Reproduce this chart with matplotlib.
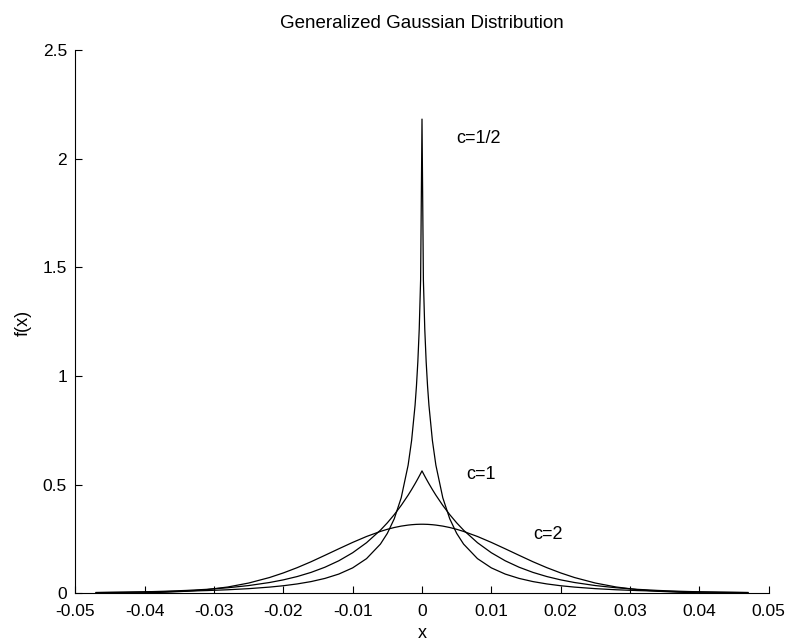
import matplotlib
matplotlib.use("Agg")
import matplotlib.pyplot as plt

plt.rcParams['font.family'] = ['Liberation Sans', 'DejaVu Sans']

# sample positions (x) shared by the three curves
x = [-0.047, -0.043, -0.040, -0.037, -0.034, -0.031, -0.028, -0.025, -0.022, -0.020,
     -0.018, -0.016, -0.014, -0.012, -0.010, -0.008, -0.006, -0.005, -0.004, -0.003,
     -0.002, -0.0015, -0.001, -0.0008, -0.0006, -0.0004, -0.0002, 0.0,
     0.0002, 0.0004, 0.0006, 0.0008, 0.001, 0.0015, 0.002, 0.003, 0.004, 0.005,
     0.006, 0.008, 0.010, 0.012, 0.014, 0.016, 0.018, 0.020, 0.022, 0.025,
     0.028, 0.031, 0.034, 0.037, 0.040, 0.043, 0.047]

# c = 1/2
f_half = [0.0038, 0.0051, 0.0063, 0.0078, 0.0099, 0.0126, 0.0163, 0.0214, 0.0285, 0.0348,
          0.0431, 0.0539, 0.0685, 0.0885, 0.1170, 0.1595, 0.2263, 0.2758, 0.3430, 0.4394,
          0.5898, 0.7028, 0.8652, 0.9540, 1.0657, 1.2154, 1.4427, 2.1820,
          1.4427, 1.2154, 1.0657, 0.9540, 0.8652, 0.7028, 0.5898, 0.4394, 0.3430, 0.2758,
          0.2263, 0.1595, 0.1170, 0.0885, 0.0685, 0.0539, 0.0431, 0.0348, 0.0285, 0.0214,
          0.0163, 0.0126, 0.0099, 0.0078, 0.0063, 0.0051, 0.0038]

# c = 1
f_one = [0.0031, 0.0049, 0.0068, 0.0095, 0.0132, 0.0183, 0.0255, 0.0356, 0.0496, 0.0618,
         0.0771, 0.0962, 0.1200, 0.1496, 0.1866, 0.2328, 0.2903, 0.3242, 0.3621, 0.4044,
         0.4516, 0.4773, 0.5044, 0.5157, 0.5272, 0.5390, 0.5510, 0.5633,
         0.5510, 0.5390, 0.5272, 0.5157, 0.5044, 0.4773, 0.4516, 0.4044, 0.3621, 0.3242,
         0.2903, 0.2328, 0.1866, 0.1496, 0.1200, 0.0962, 0.0771, 0.0618, 0.0496, 0.0356,
         0.0255, 0.0183, 0.0132, 0.0095, 0.0068, 0.0049, 0.0031]

# c = 2
f_two = [0.0004, 0.0011, 0.0024, 0.0049, 0.0093, 0.0170, 0.0290, 0.0472, 0.0725, 0.0937,
         0.1180, 0.1452, 0.1748, 0.2048, 0.2342, 0.2614, 0.2847, 0.2945, 0.3027, 0.3092,
         0.3139, 0.3156, 0.3168, 0.3172, 0.3174, 0.3176, 0.3178, 0.3178,
         0.3178, 0.3176, 0.3174, 0.3172, 0.3168, 0.3156, 0.3139, 0.3092, 0.3027, 0.2945,
         0.2847, 0.2614, 0.2342, 0.2048, 0.1748, 0.1452, 0.1180, 0.0937, 0.0725, 0.0472,
         0.0290, 0.0170, 0.0093, 0.0049, 0.0024, 0.0011, 0.0004]

x_ticks = [-0.05, -0.04, -0.03, -0.02, -0.01, 0, 0.01, 0.02, 0.03, 0.04, 0.05]
x_tick_labels = ['-0.05', '-0.04', '-0.03', '-0.02', '-0.01', '0', '0.01', '0.02', '0.03', '0.04', '0.05']
y_ticks = [0, 0.5, 1, 1.5, 2, 2.5]
y_tick_labels = ['0', '0.5', '1', '1.5', '2', '2.5']

curve_labels = ['c=1/2', 'c=1', 'c=2']
label_pos = [(0.0050, 2.095), (0.0064, 0.548), (0.0160, 0.272)]

W, H = 789, 641
fig = plt.figure(figsize=(W / 100, H / 100), dpi=100)
ax = fig.add_axes([75.3 / W, 1 - 593.3 / H, (768.7 - 75.3) / W, (593.3 - 50) / H])

for ys in (f_half, f_one, f_two):
    ax.plot(x, ys, color='black', linewidth=0.9)

for lab, (lx, ly) in zip(curve_labels, label_pos):
    ax.text(lx, ly, lab, fontsize=13, ha='left', va='center')

ax.set_xlim(-0.05, 0.05)
ax.set_ylim(0, 2.5)
ax.set_xticks(x_ticks)
ax.set_xticklabels(x_tick_labels)
ax.set_yticks(y_ticks)
ax.set_yticklabels(y_tick_labels)
ax.tick_params(direction='in', length=5, width=0.8, labelsize=12.5)
ax.tick_params(axis='x', pad=7.5)
ax.tick_params(axis='y', pad=6)
for s in ('top', 'right'):
    ax.spines[s].set_visible(False)
for s in ('left', 'bottom'):
    ax.spines[s].set_linewidth(0.8)

fig.text(422 / W, 1 - 23 / H, 'Generalized Gaussian Distribution', ha='center', va='center', fontsize=13.5)
fig.text(422 / W, 1 - 634 / H, 'x', ha='center', va='center', fontsize=13)
fig.text(23 / W, 1 - 323 / H, 'f(x)', ha='center', va='center', fontsize=13, rotation=90)

fig.savefig('out.png', dpi=100)
